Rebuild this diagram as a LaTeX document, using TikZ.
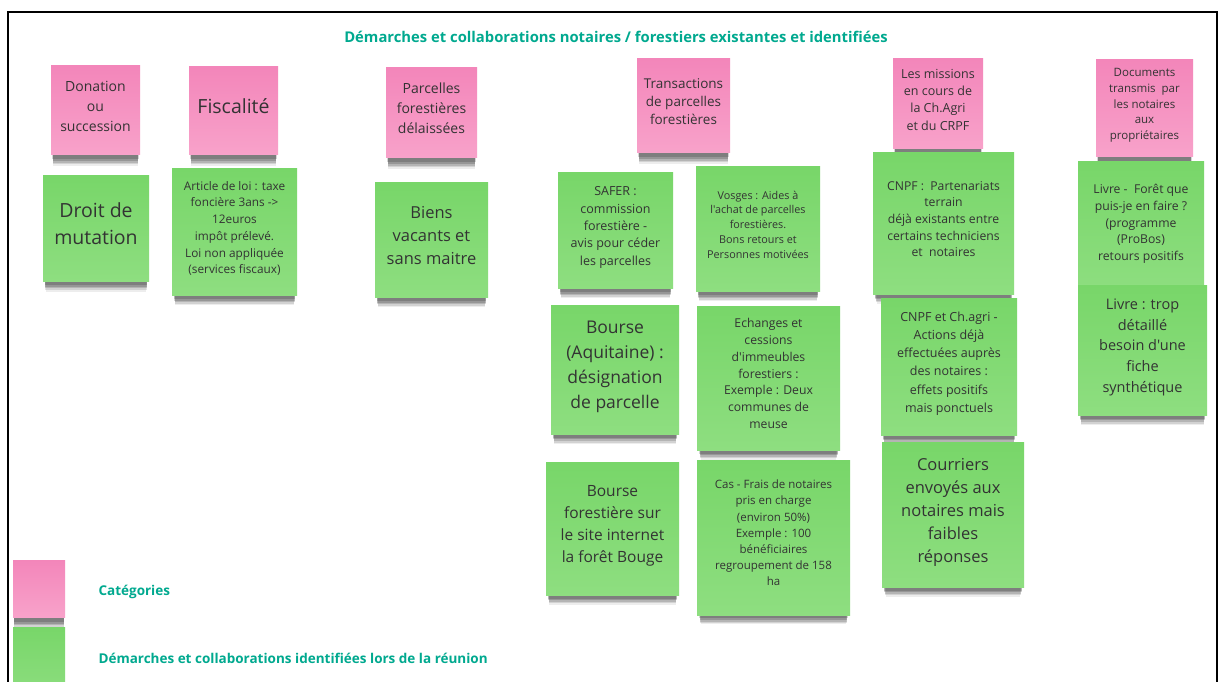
\documentclass[tikz,border=0pt]{standalone}
\usepackage{fontspec}
\setmainfont{Open Sans}[Ligatures=TeXOff]
\usetikzlibrary{shadows}
\definecolor{pinkT}{HTML}{F386BA}
\definecolor{pinkB}{HTML}{F8A2CA}
\definecolor{greenT}{HTML}{78D669}
\definecolor{greenB}{HTML}{8EDE80}
\definecolor{titleteal}{HTML}{00A98F}
\definecolor{notetext}{HTML}{333333}
\newcommand\notefs[2]{\fontsize{#1}{#2}\selectfont}
\tikzset{
  stickyshadow/.style={
    general shadow={shadow yshift=-6pt, shadow scale=0.97, fill=black, opacity=0.16},
    general shadow={shadow yshift=-8pt, shadow scale=0.965, fill=black, opacity=0.16},
    general shadow={shadow yshift=-10pt, shadow scale=0.96, fill=black, opacity=0.14},
    general shadow={shadow yshift=-12pt, shadow scale=0.955, fill=black, opacity=0.11},
    general shadow={shadow yshift=-14pt, shadow scale=0.95, fill=black, opacity=0.07}},
  note/.style={rectangle, inner sep=2pt, align=center, text=notetext, text depth=9pt, stickyshadow},
  pnote/.style={note, top color=pinkT, bottom color=pinkB},
  gnote/.style={note, top color=greenT, bottom color=greenB},
  lab/.style={text=titleteal, font=\bfseries\notefs{13.5}{16}},
  frame/.style={draw=black, line width=2pt}
}
\begin{document}
\begin{tikzpicture}[x=1pt, y=-1pt]
\useasboundingbox (0,0) rectangle (1219,682);
\clip (0,0) rectangle (1219,682);
\fill[white] (0,0) rectangle (1219,682);
\node[frame, minimum width=1209, minimum height=688, inner sep=0pt] (frm) at (612.5,356) {};
\node[lab, font=\bfseries\notefs{14.8}{18}, anchor=center] (title) at (616,37) {Démarches et collaborations notaires / forestiers existantes et identifiées};
% categories
\node[pnote, minimum width=89, minimum height=89, font=\notefs{14}{20}] (donation) at (95.5,110.5) {Donation\\ou\\succession};
\node[pnote, minimum width=89, minimum height=88, font=\notefs{19.5}{24}] (fiscal) at (233.5,111) {Fiscalité};
\node[pnote, minimum width=91, minimum height=90, font=\notefs{14}{20}] (parcelles) at (431.5,113) {Parcelles\\forestières\\délaissées};
\node[pnote, minimum width=93, minimum height=94, font=\notefs{13.5}{18.3}] (transactions) at (683.5,106) {Transactions\\de parcelles\\forestières};
\node[pnote, minimum width=90, minimum height=90, font=\notefs{12.5}{17.3}] (missions) at (938,104) {Les missions\\en cours de\\la Ch.Agri\\et du CRPF};
\node[pnote, minimum width=97, minimum height=97, font=\notefs{11.5}{15.7}] (documents) at (1144.5,108.5) {Documents\\transmis~ par\\les notaires\\aux\\propriétaires};
% actions
\node[gnote, minimum width=106, minimum height=105, font=\notefs{19.5}{27}] (droit) at (96,228.5) {Droit de\\mutation};
\node[gnote, minimum width=125, minimum height=126, font=\notefs{11.8}{16.7}] (article) at (234.5,232) {Article de loi : taxe\\foncière 3ans ->\\12euros\\impôt prélevé.\\Loi non appliquée\\(services fiscaux)};
\node[gnote, minimum width=113, minimum height=114, font=\notefs{16.5}{23.3}] (biens) at (431.5,240) {Biens\\vacants et\\sans maitre};
\node[gnote, minimum width=115, minimum height=115, font=\notefs{12.5}{17.3}] (safer) at (615.5,230.5) {SAFER :\\commission\\forestière -\\avis pour céder\\les parcelles};
\node[gnote, minimum width=124, minimum height=124, font=\notefs{10.8}{14.7}] (vosges) at (758,229) {Vosges : Aides à\\l'achat de parcelles\\forestières.\\Bons retours et\\Personnes motivées};
\node[gnote, minimum width=141, minimum height=141, font=\notefs{12.2}{16.6}] (cnpfa) at (943.5,223.5) {CNPF :~ Partenariats\\terrain\\déjà existants entre\\certains techniciens\\et~ notaires};
\node[gnote, minimum width=126, minimum height=130, font=\notefs{12.2}{16.7}] (livrea) at (1141,227) {Livre -~ Forêt que\\puis-je en faire ?\\(programme\\(ProBos)\\retours positifs};
\node[gnote, minimum width=128, minimum height=129, font=\notefs{17.5}{25}] (aquitaine) at (615,369.5) {Bourse\\(Aquitaine) :\\désignation\\de parcelle};
\node[gnote, minimum width=143, minimum height=144, font=\notefs{12.2}{16.8}] (echanges) at (768.5,378) {Echanges et\\cessions\\d'immeubles\\forestiers :\\Exemple : Deux\\communes de\\meuse};
\node[gnote, minimum width=136, minimum height=137, font=\notefs{12.5}{18.3}] (cnpfb) at (949,366.5) {CNPF et Ch.agri -\\Actions déjà\\effectuées auprès\\des notaires :\\effets positifs\\mais ponctuels};
\node[gnote, minimum width=129, minimum height=130, font=\notefs{14.5}{20.8}] (livreb) at (1142.5,350) {Livre : trop\\détaillé\\besoin d'une\\fiche\\synthétique};
\node[gnote, minimum width=133, minimum height=133, font=\notefs{15.5}{21.7}] (bourse) at (612.5,528.5) {Bourse\\forestière sur\\le site internet\\la forêt Bouge};
\node[gnote, minimum width=153, minimum height=155, font=\notefs{11.5}{16.2}] (cas) at (773.5,537.5) {Cas - Frais de notaires\\pris en charge\\(environ 50\%)\\Exemple : 100\\bénéficiaires\\regroupement de 158\\ha};
\node[gnote, minimum width=142, minimum height=145, font=\notefs{16.5}{23}] (courriers) at (953,514.5) {Courriers\\envoyés aux\\notaires mais\\faibles\\réponses};
% legend
\node[pnote, minimum width=52, minimum height=57] (legp) at (39,588.5) {};
\node[gnote, minimum width=52, minimum height=73] (legg) at (39,663.5) {};
\node[lab, anchor=west] (legpt) at (95,592) {Catégories};
\node[lab, anchor=west] (leggt) at (95,658) {Démarches et collaborations identifiées lors de la réunion};
\end{tikzpicture}
\end{document}
